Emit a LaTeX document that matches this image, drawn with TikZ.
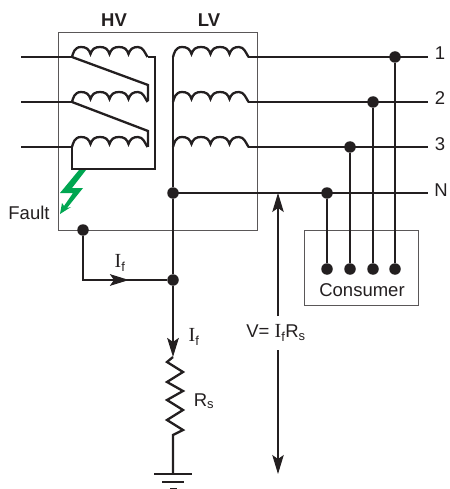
\documentclass[tikz,border=0pt]{standalone}
\usepackage{fontspec}
\setmainfont{Liberation Sans}
\newfontfamily\serifI{Liberation Serif}
\usetikzlibrary{arrows.meta}
\definecolor{ink}{HTML}{231F20}
\definecolor{boltgreen}{HTML}{00A651}
\newcommand{\coilpath}[2]{% start x, y
  \begin{scope}[shift={(#1,#2)}]
  \draw[wire] (0,0) .. controls (1,-3) and (2,-10) .. (9,-10) .. controls (14,-10) and (17,-8) .. (18.5,-3)
   .. controls (20,-8) and (23,-10) .. (28,-10) .. controls (33,-10) and (36,-8) .. (37.5,-3)
   .. controls (39,-8) and (42,-10) .. (47,-10) .. controls (52,-10) and (55,-8) .. (56.5,-3)
   .. controls (58,-8) and (61,-10) .. (66,-10) .. controls (71,-10) and (73,-4) .. (75.5,0);
  \end{scope}
}
\newcommand{\sub}[1]{\textsubscript{#1}}
\newcommand{\bigI}{{\fontsize{20}{20}\selectfont\serifI I}}
\begin{document}
\begin{tikzpicture}[x=1pt,y=-1pt,
  wire/.style={draw=ink,line width=2.3pt,line join=miter},
  thinwire/.style={draw=ink,line width=1.1pt},
  frame/.style={draw=ink!75,line width=1pt},
  dot/.style={circle,fill=ink,inner sep=0pt,minimum size=11.5pt},
  lbl/.style={font=\fontsize{18.5}{20}\selectfont,text=ink,inner sep=0pt},
  blbl/.style={font=\fontsize{18.5}{20}\selectfont\bfseries,text=ink,inner sep=0pt},
  head/.style={-{Stealth[length=19pt,width=11.5pt,inset=4pt]}},
]
\useasboundingbox (0,0) rectangle (449,489);
% frames
\node[frame,minimum width=199pt,minimum height=198pt,inner sep=0pt,anchor=north west] (tank) at (58,32) {};
\node[frame,minimum width=114pt,minimum height=75pt,inner sep=0pt,anchor=north west] (cons) at (304,230) {};
% coordinates
\coordinate (h1) at (72,57); \coordinate (h2) at (72,102); \coordinate (h3) at (72,147);
\coordinate (i1) at (21,57); \coordinate (i2) at (21,102); \coordinate (i3) at (21,147);
\coordinate (he1) at (147.5,57); \coordinate (hc) at (155,57); \coordinate (hb) at (155,169);
\coordinate (hbl) at (72,169);
\coordinate (t2) at (148,85); \coordinate (e2) at (148,101);
\coordinate (t3) at (148,131); \coordinate (e3) at (148,147);
\coordinate (l1) at (173,57); \coordinate (l2) at (173,102); \coordinate (l3) at (173,147);
\coordinate (o1) at (248,57); \coordinate (o2) at (248,102); \coordinate (o3) at (248,147);
\coordinate (r1) at (428,57); \coordinate (r2) at (428,102); \coordinate (r3) at (428,147); \coordinate (rn) at (428,193);
% HV winding
\coilpath{72}{57}\coilpath{72}{102}\coilpath{72}{147}
\draw[wire] (i1)--(h1); \draw[wire] (i2)--(h2); \draw[wire] (i3)--(h3);
\draw[wire] (he1)--(hc)--(hb)--(hbl)--(h3);
\draw[wire] (h1)--(t2)--(e2);
\draw[wire] (h2)--(t3)--(e3);
% LV winding
\coilpath{173}{57}\coilpath{173}{102}\coilpath{173}{147}
\draw[wire] (o1)--(r1); \draw[wire] (o2)--(r2); \draw[wire] (o3)--(r3);
% dots
\node[dot] (nstar) at (173,193) {};
\node[dot] (fa) at (83,230) {};
\node[dot] (fj) at (173,280) {};
\node[dot] (d1) at (395,57) {};
\node[dot] (d2) at (373,102) {};
\node[dot] (d3) at (350,147) {};
\node[dot] (dn) at (327,193) {};
\node[dot] (c1) at (395,269) {};
\node[dot] (c2) at (373,269) {};
\node[dot] (c3) at (350,269) {};
\node[dot] (cn) at (327,269) {};
% vertical connections
\draw[wire] (l1)--(nstar)--(fj);
\draw[wire] (nstar.center)--(rn);
\draw[wire] (d1)--(c1); \draw[wire] (d2)--(c2); \draw[wire] (d3)--(c3); \draw[wire] (dn)--(cn);
% fault path
\coordinate (fc) at (83,280);
\coordinate (fm) at (129,280);
\draw[wire] (fa)--(fc)--(fj);
\draw[wire,head] (fc)--(fm);
% resistor
\coordinate (ra) at (173,357);
\coordinate (rb) at (173,435);
\coordinate (gnd) at (173,474);
\draw[wire,head] (fj)--(ra);
\draw[wire] (ra)--(167,362)--(183,372)--(167,382)--(183,391)--(167,400)--(183,410)--(167,420)--(183,430)--(rb)--(gnd);
% ground
\coordinate (g1a) at (154,474); \coordinate (g1b) at (192,474);
\coordinate (g2a) at (162,482); \coordinate (g2b) at (184,482);
\coordinate (g3a) at (170,488.3); \coordinate (g3b) at (177,488.3);
\draw[wire] (g1a)--(g1b); \draw[wire] (g2a)--(g2b); \draw[wire,line width=1.2pt] (g3a)--(g3b);
% bolt
\fill[boltgreen] (79,170)--(86,170)--(72,188)--(83,188)--(67,208)--(71,207)--(60,214)--(62,203)--(64,206)--(73,193)--(60,193)--cycle;
% V label and arrows
\node[lbl] (vl) at (276,333) {V= \bigI\sub{f}R\sub{s}};
\coordinate (vt) at (278,193); \coordinate (vb) at (278,474);
\draw[thinwire,head] (278,316)--(vt);
\draw[thinwire,head] (278,350)--(vb);
% labels
\node[blbl] (hv) at (114,20) {HV};
\node[blbl] (lv) at (209,20) {LV};
\node[lbl] (fl) at (29,213) {Fault};
\node[lbl] (if1) at (120,263) {\bigI\sub{f}};
\node[lbl] (if2) at (194,337) {\bigI\sub{f}};
\node[lbl] (rs) at (204,401) {R\sub{s}};
\node[lbl] (n1) at (440,53) {1};
\node[lbl] (n2) at (440,98) {2};
\node[lbl] (n3) at (440,144) {3};
\node[lbl] (nn) at (441,190) {N};
\node[lbl] (cl) at (362,290) {Consumer};
\end{tikzpicture}
\end{document}
